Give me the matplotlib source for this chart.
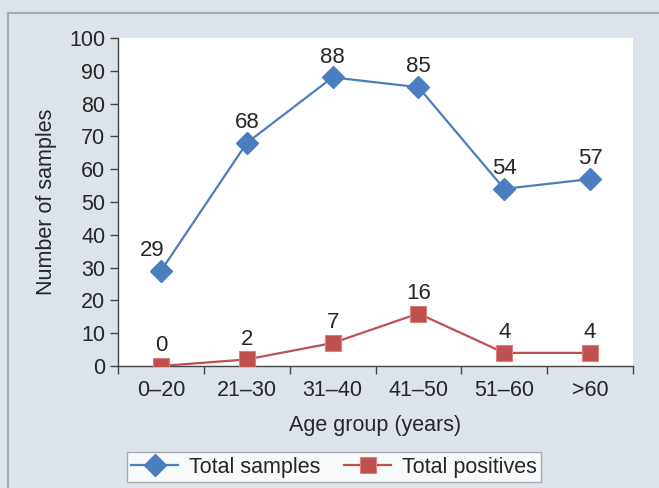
import numpy as np
import matplotlib
matplotlib.use("Agg")
import matplotlib.pyplot as plt
from matplotlib.lines import Line2D

# data
age_groups = ["0\u201320", "21\u201330", "31\u201340", "41\u201350", "51\u201360", ">60"]
total_samples = [29, 68, 88, 85, 54, 57]
total_positives = [0, 2, 7, 16, 4, 4]

plt.rcParams["font.family"] = ["Liberation Sans", "DejaVu Sans"]
text_color = "#262626"
bg_color = "#dce3eb"
blue = "#4a7ebf"
red = "#c0504d"
fs = 15.5

W, H = 659, 488
fig = plt.figure(figsize=(W / 100, H / 100), dpi=100, facecolor=bg_color)

# pixel box of the plot area
left, right, top, bottom = 118, 633, 38, 366
ax = fig.add_axes([left / W, 1 - bottom / H, (right - left) / W, (bottom - top) / H])
ax.set_facecolor("white")

x = np.arange(len(age_groups))
ax.plot(x, total_samples, color=blue, lw=1.6, marker="D", ms=11.5,
        mfc=blue, mec=blue, label="Total samples", zorder=3)
ax.plot(x, total_positives, color=red, lw=1.6, marker="s", ms=12,
        mfc=red, mec="#d9817f", mew=0.8, label="Total positives", zorder=3)

for i, v in enumerate(total_samples):
    dx = -6 if i == 0 else 0  # first label sits left of the rising line
    ax.annotate(str(v), (x[i], v), xytext=(dx, 7), textcoords="offset points",
                ha="center", va="bottom", fontsize=16, color=text_color)
for i, v in enumerate(total_positives):
    ax.annotate(str(v), (x[i], v), xytext=(0, 7), textcoords="offset points",
                ha="center", va="bottom", fontsize=16, color=text_color)

ax.set_xlim(-0.5, len(age_groups) - 0.5)
ax.set_ylim(0, 100)
ax.set_yticks(np.arange(0, 101, 10))
ax.set_xticks(x)
ax.set_xticklabels(age_groups)
ax.set_xticks(np.arange(-0.5, len(age_groups), 1), minor=True)
ax.tick_params(axis="x", which="major", length=0, pad=10, labelsize=fs, labelcolor=text_color)
ax.tick_params(axis="x", which="minor", length=6, width=1, color="#444444", direction="out")
ax.tick_params(axis="y", length=6, width=1, color="#444444", direction="out",
               pad=3, labelsize=fs, labelcolor=text_color)

for s in ["top", "right"]:
    ax.spines[s].set_visible(False)
for s in ["left", "bottom"]:
    ax.spines[s].set_color("#444444")
    ax.spines[s].set_linewidth(1)

ax.set_xlabel("Age group (years)", fontsize=fs, color=text_color, labelpad=10)
ax.set_ylabel("Number of samples", fontsize=fs, color=text_color, labelpad=9)

leg = fig.legend(loc="center", bbox_to_anchor=(334 / W, 1 - 467 / H), ncol=2,
                 frameon=True, fancybox=False, fontsize=fs, handlelength=2.2,
                 columnspacing=1.1, borderpad=0.2, borderaxespad=0, handletextpad=0.5,
                 labelcolor=text_color)
leg.get_frame().set_edgecolor("#999999")
leg.get_frame().set_linewidth(1)

# grey frame lines at top and left of the picture
fig.add_artist(Line2D([7.5 / W, 1], [1 - 12.5 / H, 1 - 12.5 / H], color="#a8acb0", lw=1.5))
fig.add_artist(Line2D([7.5 / W, 7.5 / W], [0, 1 - 12.5 / H], color="#a8acb0", lw=1.5))

fig.savefig("out.png", dpi=100, facecolor=bg_color)
